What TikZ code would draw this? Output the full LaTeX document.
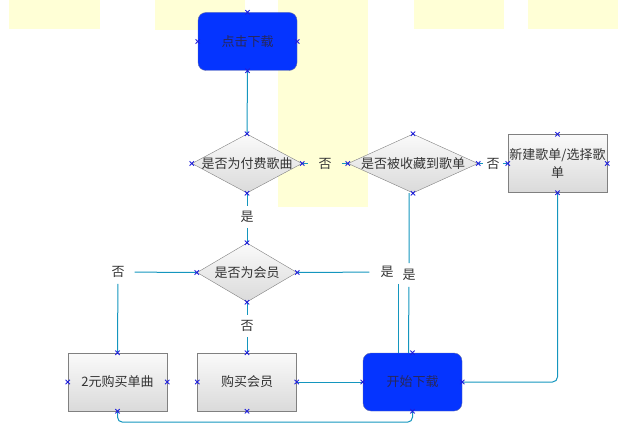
\documentclass[tikz,border=0pt]{standalone}
\usepackage{fontspec}
\setmainfont{Noto Sans CJK SC}
\usetikzlibrary{shapes.geometric}
\definecolor{ylw}{RGB}{255,255,214}
\definecolor{lnk}{RGB}{20,150,190}
\definecolor{bluefill}{RGB}{5,52,255}
\definecolor{blueline}{RGB}{100,110,170}
\definecolor{bluetxt}{RGB}{40,40,90}
\definecolor{mk}{RGB}{30,30,220}
\definecolor{txt}{RGB}{51,51,51}
\definecolor{gtop}{RGB}{250,250,250}
\definecolor{gbot}{RGB}{218,218,218}
\definecolor{gline}{RGB}{128,128,128}
\begin{document}
\begin{tikzpicture}[x=1pt,y=-1pt,
  every node/.style={font=\fontsize{13}{18}\selectfont, text=txt},
  bluebox/.style={rectangle, rounded corners=8, draw=blueline, fill=bluefill, minimum width=99, minimum height=58, inner sep=0, text=bluetxt},
  graybox/.style={rectangle, draw=gline, top color=gtop, bottom color=gbot, minimum width=99, minimum height=58, inner sep=0, align=center},
  decision/.style={diamond, draw=gline, top color=gtop, bottom color=gbot, minimum height=59, inner sep=0},
  lbl/.style={inner xsep=9, inner ysep=5},
  link/.style={draw=lnk, line width=1}
]
\useasboundingbox (0,0) rectangle (620,433);
% background yellow rectangles
\fill[ylw] (9,0) rectangle (100,29);
\fill[ylw] (155,0) rectangle (245,30);
\fill[ylw] (278,0) rectangle (368,207);
\fill[ylw] (414,0) rectangle (504,29);
\fill[ylw] (528,0) rectangle (618,29);

% nodes
\node[bluebox] (dl) at (247.5,41.5) {点击下载};
\node[decision, minimum width=110] (d1) at (247,163.5) {\makebox[0pt]{是否为付费歌曲}};
\node[decision, minimum width=130] (d2) at (413,163.5) {\makebox[0pt]{是否被收藏到歌单}};
\node[graybox] (nb) at (557.5,163.5) {新建歌单/选择歌\\单};
\node[decision, minimum width=100] (d3) at (247,272.5) {\makebox[0pt]{是否为会员}};
\node[graybox] (b1) at (117.5,382) {2元购买单曲};
\node[graybox] (b2) at (247,382) {购买会员};
\node[bluebox] (st) at (412.5,382) {开始下载};

% labels
\node[lbl, inner xsep=10] (lno1) at (325,163.5) {否};
\node[lbl, inner xsep=3] (lno2) at (493,163.5) {否};
\node[lbl] (lyes0) at (247,217) {是};
\node[lbl, inner xsep=10, inner ysep=6] (lno3) at (118,272) {否};
\node[lbl] (lno4) at (247,326) {否};
\node[lbl, inner xsep=11, inner ysep=6] (lyes1) at (387,272) {是};
\node[lbl, inner ysep=6] (lyes2) at (409,275) {是};

% connectors
\draw[link] (dl.south) -- (d1.north);
\draw[link] (d1.east) -- (lno1) -- (d2.west);
\draw[link] (d2.east) -- (lno2) -- (nb.west);
\draw[link] (d1.south) -- (lyes0) -- (d3.north);
\draw[link] (d3.west) -- (lno3) -- (b1.north);
\draw[link] (d3.south) -- (lno4) -- (b2.north);
\draw[link] (d3.east) -- (lyes1);
\draw[link] ([xshift=11]lyes1.south) -- ([xshift=-14.5]st.north);
\draw[link] ([xshift=-4]d2.south) -- (lyes2) -- ([xshift=-4]st.north);
\draw[link] (b2.east) -- (st.west);
\draw[link, rounded corners=5] (nb.south) |- (st.east);
\draw[link, rounded corners=5] (b1.south) -- ++(0,11) -| (st.south);

% connection point markers
\foreach \n in {dl,d1,d2,nb,d3,b1,b2,st}
  \foreach \a in {north,south,east,west}
    \draw[mk, line width=0.9] ([shift={(-2.2,-2.2)}]\n.\a) -- ++(4.4,4.4)
                              ([shift={(-2.2,2.2)}]\n.\a) -- ++(4.4,-4.4);
\end{tikzpicture}
\end{document}
